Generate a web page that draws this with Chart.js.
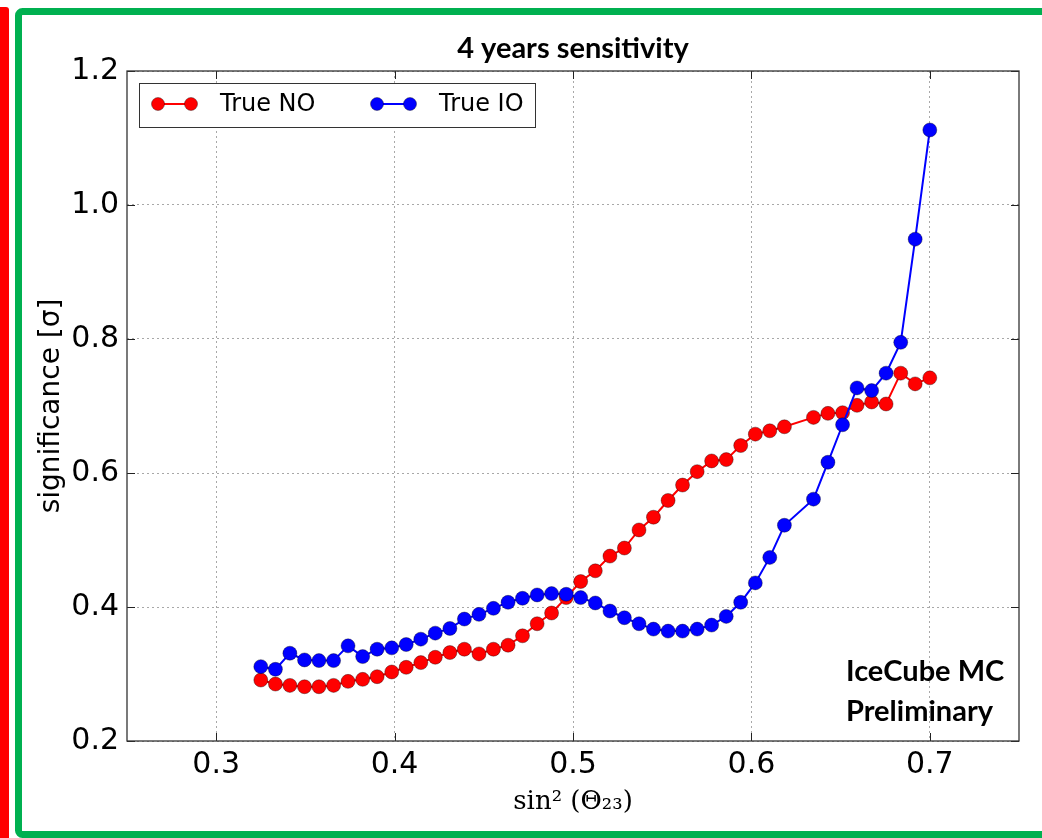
<!DOCTYPE html>
<html>
<head>
<meta charset="utf-8">
<title>4 years sensitivity</title>
<script src="https://cdn.jsdelivr.net/npm/chart.js@4.4.1/dist/chart.umd.min.js"></script>
<style>
  html, body { margin: 0; padding: 0; background: #ffffff; }
  #wrap { position: relative; width: 1042px; height: 838px; }
  canvas { display: block; }
</style>
</head>
<body>
<div id="wrap"><canvas id="chart" width="1042" height="838"></canvas></div>
<script>
// sin^2(theta_23) grid of the scan
const sin2Theta23 = [
  0.3250, 0.3332, 0.3413, 0.3495, 0.3576, 0.3658, 0.3739, 0.3821, 0.3902, 0.3984,
  0.4065, 0.4147, 0.4228, 0.4310, 0.4391, 0.4473, 0.4554, 0.4636, 0.4717, 0.4799,
  0.4880, 0.4962, 0.5043, 0.5125, 0.5207, 0.5288, 0.5370, 0.5451, 0.5533, 0.5614,
  0.5696, 0.5777, 0.5859, 0.5940, 0.6022, 0.6103, 0.6185, 0.6348, 0.6429, 0.6511,
  0.6592, 0.6674, 0.6755, 0.6837, 0.6918, 0.7000
];

// significance [sigma], true normal ordering
const trueNO = [
  0.291, 0.285, 0.283, 0.281, 0.281, 0.283, 0.289, 0.292, 0.296, 0.303,
  0.310, 0.317, 0.325, 0.332, 0.337, 0.330, 0.337, 0.343, 0.357, 0.375,
  0.391, 0.414, 0.438, 0.454, 0.476, 0.488, 0.515, 0.534, 0.559, 0.582,
  0.602, 0.618, 0.620, 0.641, 0.658, 0.663, 0.669, 0.683, 0.689, 0.690,
  0.701, 0.706, 0.703, 0.749, 0.733, 0.742
];

// significance [sigma], true inverted ordering
const trueIO = [
  0.311, 0.307, 0.331, 0.321, 0.320, 0.320, 0.342, 0.326, 0.337, 0.339,
  0.344, 0.352, 0.361, 0.368, 0.382, 0.389, 0.398, 0.407, 0.413, 0.418,
  0.420, 0.419, 0.414, 0.406, 0.394, 0.384, 0.375, 0.367, 0.364, 0.364,
  0.367, 0.373, 0.386, 0.407, 0.436, 0.474, 0.522, 0.561, 0.616, 0.672,
  0.727, 0.723, 0.749, 0.795, 0.949, 1.112
];

const xTickValues = [0.3, 0.4, 0.5, 0.6, 0.7];
const yTickValues = [0.2, 0.4, 0.6, 0.8, 1.0, 1.2];
const seriesLabels = ['True NO', 'True IO'];
const seriesColors = ['#ff0000', '#0000ff'];
const chartTitle = '4 years sensitivity';
const annotationLines = ['IceCube MC', 'Preliminary'];

const toPoints = ys => ys.map((y, i) => ({ x: sin2Theta23[i], y }));

// Slide decoration: red bar on the left, green frame around the figure
const slideFrame = {
  id: 'slideFrame',
  beforeDraw(chart) {
    const ctx = chart.ctx;
    ctx.save();
    ctx.fillStyle = '#ffffff';
    ctx.fillRect(0, 0, chart.width, chart.height);
    ctx.fillStyle = '#ff0000';
    ctx.beginPath();
    ctx.roundRect(-6, 7, 15, 840, 3);
    ctx.fill();
    ctx.strokeStyle = '#00b050';
    ctx.lineWidth = 7;
    ctx.beginPath();
    ctx.roundRect(18.5, 11.5, 1060, 823, 4);
    ctx.stroke();
    ctx.restore();
  }
};

// Title over the plot, axes box, inward tick marks, legend box and the preliminary label
const plotExtras = {
  id: 'plotExtras',
  afterDraw(chart) {
    const ctx = chart.ctx;
    const a = chart.chartArea;
    const xs = chart.scales.x, ys = chart.scales.y;
    ctx.save();

    // title centred on the axes
    ctx.fillStyle = '#000';
    ctx.font = 'bold 29px Lato';
    ctx.textAlign = 'center';
    ctx.textBaseline = 'alphabetic';
    ctx.fillText(chartTitle, (a.left + a.right) / 2, 58);

    // inward major ticks
    ctx.strokeStyle = '#222';
    ctx.lineWidth = 1;
    ctx.beginPath();
    xTickValues.forEach(v => {
      const px = Math.round(xs.getPixelForValue(v)) + 0.5;
      ctx.moveTo(px, a.bottom); ctx.lineTo(px, a.bottom - 8);
      ctx.moveTo(px, a.top); ctx.lineTo(px, a.top + 8);
    });
    yTickValues.forEach(v => {
      const py = Math.round(ys.getPixelForValue(v)) + 0.5;
      ctx.moveTo(a.left, py); ctx.lineTo(a.left + 8, py);
      ctx.moveTo(a.right, py); ctx.lineTo(a.right - 8, py);
    });
    ctx.stroke();
    // axes frame
    ctx.strokeStyle = '#333';
    ctx.lineWidth = 1.3;
    ctx.strokeRect(a.left, a.top, a.right - a.left, a.bottom - a.top);

    // legend
    const lx = a.left + 12, ly = a.top + 12, lw = 396, lh = 44;
    ctx.fillStyle = '#ffffff';
    ctx.fillRect(lx, ly, lw, lh);
    ctx.strokeStyle = '#333';
    ctx.lineWidth = 1;
    ctx.strokeRect(lx + 0.5, ly + 0.5, lw, lh);
    const cy = ly + lh / 2 - 1;
    const starts = [lx + 19, lx + 238];
    chart.data.datasets.forEach((ds, i) => {
      const x0 = starts[i];
      ctx.strokeStyle = ds.borderColor;
      ctx.lineWidth = 2;
      ctx.beginPath();
      ctx.moveTo(x0, cy); ctx.lineTo(x0 + 33, cy);
      ctx.stroke();
      [x0, x0 + 33].forEach(px => {
        ctx.beginPath();
        ctx.arc(px, cy, 6.5, 0, Math.PI * 2);
        ctx.fillStyle = ds.backgroundColor;
        ctx.fill();
        ctx.strokeStyle = 'rgba(0,0,0,0.45)';
        ctx.lineWidth = 0.8;
        ctx.stroke();
      });
      ctx.fillStyle = '#000';
      ctx.font = '24px "DejaVu Sans"';
      ctx.textBaseline = 'middle';
      ctx.textAlign = 'left';
      ctx.fillText(ds.label, x0 + 62, cy + 1);
    });

    // preliminary label
    ctx.fillStyle = '#000';
    ctx.font = 'bold 29px Lato';
    ctx.textBaseline = 'alphabetic';
    ctx.textAlign = 'left';
    ctx.fillText(annotationLines[0], 846, 681);
    ctx.fillText(annotationLines[1], 846, 721);
    ctx.restore();
  }
};

const pointStyle = color => ({
  borderColor: color,
  backgroundColor: color,
  pointBackgroundColor: color,
  pointBorderColor: 'rgba(0,0,0,0.45)',
  pointBorderWidth: 0.8,
  pointRadius: 7,
  pointHoverRadius: 7,
  borderWidth: 2,
  tension: 0
});

new Chart(document.getElementById('chart'), {
  type: 'line',
  data: {
    datasets: [
      Object.assign({ label: seriesLabels[0], data: toPoints(trueNO), order: 1 }, pointStyle(seriesColors[0])),
      Object.assign({ label: seriesLabels[1], data: toPoints(trueIO), order: 0 }, pointStyle(seriesColors[1]))
    ]
  },
  options: {
    responsive: false,
    animation: false,
    events: [],
    layout: { padding: { left: 0, right: 23, top: 71, bottom: 0 } },
    plugins: {
      legend: { display: false },
      tooltip: { enabled: false },
      title: { display: false }
    },
    scales: {
      x: {
        type: 'linear',
        min: 0.25,
        max: 0.75,
        afterBuildTicks: s => { s.ticks = xTickValues.map(v => ({ value: v })); },
        afterFit: s => { s.height = 97; },
        ticks: {
          color: '#000',
          font: { family: 'DejaVu Sans', size: 30 },
          padding: 6,
          maxRotation: 0,
          callback: v => v.toFixed(1)
        },
        grid: { color: '#a8a8a8', lineWidth: 1, drawTicks: false },
        border: { display: false, dash: [2, 3] },
        title: {
          display: true,
          text: 'sin² (Θ₂₃)',
          color: '#000',
          font: { family: 'DejaVu Serif', size: 26, lineHeight: 1.2 },
          padding: { top: 0, bottom: 20 }
        }
      },
      y: {
        type: 'linear',
        min: 0.2,
        max: 1.2,
        afterBuildTicks: s => { s.ticks = yTickValues.map(v => ({ value: v })); },
        afterFit: s => { s.width = 127; },
        ticks: {
          color: '#000',
          font: { family: 'DejaVu Sans', size: 30 },
          padding: 8,
          callback: v => v.toFixed(1)
        },
        grid: { color: '#a8a8a8', lineWidth: 1, drawTicks: false },
        border: { display: false, dash: [2, 3] },
        title: {
          display: true,
          text: 'significance [σ]',
          color: '#000',
          font: { family: 'DejaVu Sans', size: 28, lineHeight: 1.2 },
          padding: { top: 35, bottom: 0 }
        }
      }
    }
  },
  plugins: [slideFrame, plotExtras]
});
</script>
</body>
</html>
